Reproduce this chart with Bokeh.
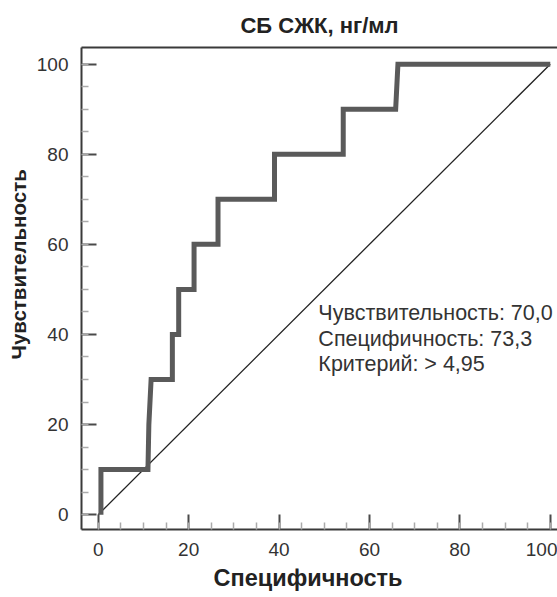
from bokeh.plotting import figure
from bokeh.models import FixedTicker, Label, LinearAxis, Title
from bokeh.embed import file_html
from bokeh.resources import INLINE

# ROC curve (x = 100 - specificity, y = sensitivity)
roc_x = [0.6, 0.6, 11.0, 11.2, 11.7, 16.4, 16.4, 17.8, 17.8, 21.2, 21.2, 26.5, 26.5,
         39.0, 39.0, 54.2, 54.2, 65.8, 66.3, 100.0]
roc_y = [0, 10, 10, 20, 30, 30, 40, 40, 50, 50, 60, 60, 70, 70, 80, 80, 90, 90, 100, 100]
diag_x = [0, 100]
diag_y = [0, 100]
major_ticks = [0, 20, 40, 60, 80, 100]
minor_ticks = list(range(0, 101, 5))
title_text = "СБ СЖК, нг/мл"
x_label = "Специфичность"
y_label = "Чувствительность"
info_lines = ["Чувствительность: 70,0", "Специфичность: 73,3", "Критерий: > 4,95"]

FONT = "Liberation Sans"

p = figure(width=557, height=597, x_range=(-3.7, 101.6), y_range=(-3.3, 103.7),
           output_backend="svg", toolbar_location=None,
           min_border_left=81, min_border_right=0, min_border_top=47, min_border_bottom=68)
p.outline_line_color = None
p.grid.visible = False
p.background_fill_color = "white"
p.border_fill_color = "white"

p.title.text = title_text
p.title.align = "center"
p.title.text_font = FONT
p.title.text_font_size = "22px"
p.title.text_font_style = "bold"
p.title.text_color = "#222222"
p.title.standoff = 8

for ax in (p.xaxis[0], p.yaxis[0]):
    ax.ticker = FixedTicker(ticks=major_ticks, minor_ticks=minor_ticks)
    ax.axis_line_color = "#3a3a3a"
    ax.axis_line_width = 2
    ax.major_tick_in = 15
    ax.major_tick_out = 0
    ax.major_tick_line_color = "#4a4a4a"
    ax.major_tick_line_width = 2
    ax.minor_tick_in = 7
    ax.minor_tick_out = 0
    ax.minor_tick_line_color = "#aaaaaa"
    ax.minor_tick_line_width = 1.5
    ax.major_label_text_font = FONT
    ax.major_label_text_font_size = "19px"
    ax.major_label_text_color = "#333333"
    ax.major_label_standoff = 13

# top frame line (axis without ticks or labels)
top = LinearAxis(ticker=FixedTicker(ticks=major_ticks), axis_line_color="#3a3a3a",
                 axis_line_width=2, major_tick_line_color=None, minor_tick_line_color=None,
                 major_label_text_font_size="1px", major_label_text_color=None,
                 major_label_standoff=0)
p.add_layout(top, "above")

# axis titles
p.add_layout(Title(text=x_label, align="left", offset=132, standoff=9,
                   text_font=FONT, text_font_size="23.5px", text_font_style="bold",
                   text_color="#222222"), "below")
p.add_layout(Title(text=y_label, align="left", offset=170, standoff=7,
                   text_font=FONT, text_font_size="20.5px", text_font_style="bold",
                   text_color="#222222"), "left")

p.line(diag_x, diag_y, line_width=1.3, line_color="#222222")
p.line(roc_x, roc_y, line_width=5, line_color="#5a5a5a", line_join="miter")

for i, t in enumerate(info_lines):
    p.add_layout(Label(x=48.7, y=44.8, y_offset=-25.7 * i, text=t, text_font=FONT,
                       text_font_size="21.5px", text_color="#333333",
                       text_baseline="middle", text_align="left"))

open("out.html", "w").write(file_html(p, INLINE))
